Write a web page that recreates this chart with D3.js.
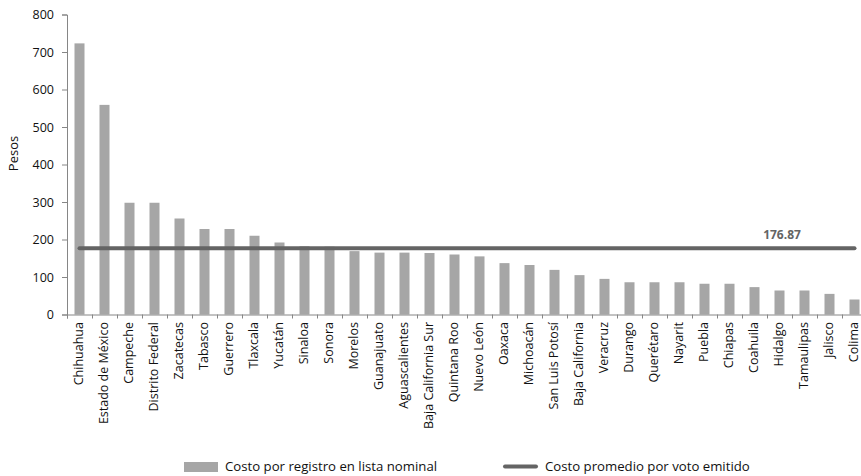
<!DOCTYPE html>
<html>
<head>
<meta charset="utf-8">
<script src="https://cdn.jsdelivr.net/npm/d3@7"></script>
<style>
  html, body { margin: 0; padding: 0; background: #fff; }
  svg { display: block; font-family: "Open Sans", sans-serif; }
</style>
</head>
<body>
<svg id="chart" width="861" height="476"></svg>
<script>
// Costo por registro en lista nominal, por entidad federativa (pesos)
const estados = [
  "Chihuahua", "Estado de México", "Campeche", "Distrito Federal", "Zacatecas",
  "Tabasco", "Guerrero", "Tlaxcala", "Yucatán", "Sinaloa", "Sonora", "Morelos",
  "Guanajuato", "Aguascalientes", "Baja California Sur", "Quintana Roo",
  "Nuevo León", "Oaxaca", "Michoacán", "San Luis Potosí", "Baja California",
  "Veracruz", "Durango", "Querétaro", "Nayarit", "Puebla", "Chiapas",
  "Coahuila", "Hidalgo", "Tamaulipas", "Jalisco", "Colima"
];
const costoRegistro = [
  723, 559, 298, 298, 256, 228, 228, 210, 192, 182, 181, 169,
  165, 165, 164, 160, 155, 137, 132, 119, 105, 95, 86, 86,
  86, 82, 82, 73, 64, 64, 55, 40
];
// Costo promedio por voto emitido (constante para todas las entidades)
const costoPromedio = 176.87;
const yTicks = [0, 100, 200, 300, 400, 500, 600, 700, 800];
const etiquetaPromedioEn = "Hidalgo";
const serieBarras = "Costo por registro en lista nominal";
const serieLinea = "Costo promedio por voto emitido";
const ejeY = "Pesos";

const svg = d3.select("#chart");
const plotLeft = 67, plotRight = 867, plotTop = 14.5, plotBottom = 314.5;

const x = d3.scaleBand()
  .domain(estados)
  .range([plotLeft, plotRight])
  .paddingInner(0.6)
  .paddingOuter(0.3);

const y = d3.scaleLinear().domain([0, 800]).range([plotBottom, plotTop]);

const axisColor = "#868686";
const textColor = "#111";

// Bars
svg.append("g")
  .selectAll("rect")
  .data(estados)
  .join("rect")
  .attr("x", d => x(d))
  .attr("width", x.bandwidth())
  .attr("y", (d, i) => y(costoRegistro[i]))
  .attr("height", (d, i) => y(0) - y(costoRegistro[i]))
  .attr("fill", "#a6a6a6");

// Y axis
const gy = svg.append("g")
  .attr("transform", `translate(${plotLeft},0)`)
  .call(d3.axisLeft(y).tickValues(yTicks).tickSize(5).tickPadding(8).tickFormat(d3.format("d")));
gy.select(".domain").attr("stroke", axisColor);
gy.selectAll(".tick line").attr("stroke", axisColor);
gy.selectAll(".tick text")
  .attr("fill", textColor)
  .style("font-size", "12.5px")
  .style("font-family", "Open Sans, sans-serif");

// X axis: boundary ticks between categories
const xb = d3.scaleLinear().domain([0, estados.length]).range([plotLeft, plotRight]);
const gxb = svg.append("g")
  .attr("transform", `translate(0,${plotBottom})`)
  .call(d3.axisBottom(xb).tickValues(d3.range(estados.length + 1)).tickSize(4).tickFormat(""));
gxb.select(".domain").attr("stroke", axisColor);
gxb.selectAll(".tick line").attr("stroke", axisColor);

// X axis labels, rotated
const gx = svg.append("g")
  .attr("transform", `translate(0,${plotBottom})`)
  .call(d3.axisBottom(x).tickSize(0).tickPadding(0));
gx.select(".domain").remove();
gx.selectAll(".tick text")
  .attr("fill", textColor)
  .style("font-size", "12.5px")
  .style("font-family", "Open Sans, sans-serif")
  .attr("text-anchor", "end")
  .attr("transform", "rotate(-90)")
  .attr("x", -7.5)
  .attr("y", 0)
  .attr("dy", "0.3em");

// Average line
const line = d3.line()
  .x(d => x(d) + x.bandwidth() / 2)
  .y(() => y(costoPromedio));
svg.append("path")
  .datum(estados)
  .attr("d", line)
  .attr("fill", "none")
  .attr("stroke", "#646464")
  .attr("stroke-width", 4)
  .attr("stroke-linecap", "round");

// Value label for the average
svg.append("text")
  .attr("x", x(etiquetaPromedioEn) + x.bandwidth() / 2 + 2.5)
  .attr("y", y(costoPromedio) - 9)
  .attr("text-anchor", "middle")
  .attr("fill", "#646464")
  .style("font-size", "12px")
  .style("font-weight", "bold")
  .text(d3.format(".2f")(costoPromedio));

// Y axis title
svg.append("text")
  .attr("transform", `translate(18,153.5) rotate(-90)`)
  .attr("text-anchor", "middle")
  .attr("fill", textColor)
  .style("font-size", "13px")
  .text(ejeY);

// Legend
const legend = svg.append("g");
legend.append("rect")
  .attr("x", 184).attr("y", 462)
  .attr("width", 34).attr("height", 10)
  .attr("fill", "#a6a6a6");
legend.append("text")
  .attr("x", 225).attr("y", 471)
  .attr("fill", textColor)
  .style("font-size", "13.2px")
  .text(serieBarras);
legend.append("line")
  .attr("x1", 505).attr("x2", 536)
  .attr("y1", 466.5).attr("y2", 466.5)
  .attr("stroke", "#646464")
  .attr("stroke-width", 4)
  .attr("stroke-linecap", "round");
legend.append("text")
  .attr("x", 545).attr("y", 471)
  .attr("fill", textColor)
  .style("font-size", "13.2px")
  .text(serieLinea);
</script>
</body>
</html>
